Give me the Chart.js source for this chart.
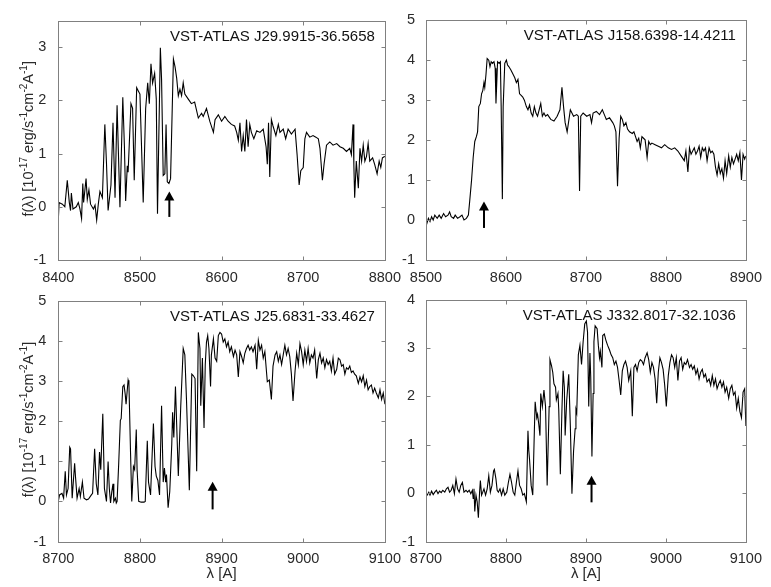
<!DOCTYPE html>
<html>
<head>
<meta charset="utf-8">
<script src="https://cdn.jsdelivr.net/npm/chart.js@4.4.1/dist/chart.umd.min.js"></script>
<style>
html, body { margin: 0; padding: 0; background: #fff; }
#wrap { position: relative; width: 771px; height: 587px; overflow: hidden; }
canvas { position: absolute; }
</style>
</head>
<body>
<div id="wrap">
  <canvas id="c1" width="410" height="290" style="left:0;top:0"></canvas>
  <canvas id="c2" width="376" height="290" style="left:395px;top:0"></canvas>
  <canvas id="c3" width="410" height="307" style="left:0;top:280px"></canvas>
  <canvas id="c4" width="376" height="307" style="left:395px;top:280px"></canvas>
</div>
<script>
// spectra: [wavelength (A), flux (1e-17 erg/s/cm2/A)]
const spec1 = [[8400,-0.25],[8401,0.08],[8405,0.05],[8408,0],[8411,0.5],[8413.5,0.08],[8415,-0.07],[8416,0.26],[8418,-0.04],[8422,0],
  [8424.5,0.08],[8426.5,-0.04],[8428.5,-0.22],[8430,0.44],[8431,0.08],[8434,0.53],[8435.5,0.14],[8437.5,0.32],[8439.5,0.05],[8443,-0.04],
  [8445,0.03],[8447,-0.25],[8449,0.05],[8451,0.29],[8454,0.17],[8457,1.55],[8459,0.83],[8461,-0.07],[8464.5,0.41],[8467,1.58],
  [8469.5,0.17],[8472,1.91],[8475.5,-0.01],[8479,2.06],[8481,1.13],[8482.5,0.11],[8484.5,0.77],[8485.5,0.65],[8489,1.94],[8491,1.85],
  [8493,0.5],[8496,2.24],[8498,2.18],[8500,2.12],[8504,0.08],[8507,1.85],[8509.5,2.33],[8511.5,1.94],[8513.5,2.69],[8515.5,2.33],
  [8518,2.51],[8520,2.03],[8521.5,-0.13],[8525,2.99],[8526.5,2.39],[8528.5,0.59],[8530.5,0.62],[8532,1.55],[8533.5,0.47],[8535.5,0.44],
  [8537.5,0.53],[8541,2.78],[8543,2.63],[8545,2.42],[8547,2.09],[8549,2.21],[8551,2.09],[8553,2.33],[8555,2.12],[8559,2.03],
  [8563,1.94],[8567,1.97],[8571.5,1.67],[8575.5,1.76],
  [8577.5,1.7],[8581.5,1.85],[8585.5,1.61],[8590,1.4],[8592,1.64],[8596,1.73],[8600,1.61],[8604,1.7],[8608,1.61],[8612,1.55],
  [8616,1.52],[8618.5,1.4],[8620.5,1.25],[8622.5,1.58],[8624.5,1.04],[8626.5,1.34],[8628.5,1.04],[8630.5,1.64],[8632.5,1.13],[8634.5,1.55],
  [8636.5,1.4],[8639.5,1.28],[8643,1.43],[8647,1.4],[8651,1.46],[8654.5,1.13],[8656,0.8],[8657.5,1.58],[8659,0.56],[8661,1.64],
  [8663,1.52],[8666.5,1.34],[8669.5,1.55],[8671.5,1.4],[8675.5,1.46],[8678.5,1.28],[8681.5,1.46],[8685.5,1.37],[8690,1.46],[8692.5,0.98],
  [8695,0.41],[8697,0.68],[8700,0.74],[8702,1.28],[8704,1.4],[8708,1.31],[8712,1.34],[8715.5,1.31],[8718.5,1.28],[8720.5,1.1],
  [8723.5,0.5],[8725.5,0.8],[8728.5,1.16],[8732.5,1.22],[8736.5,1.16],[8741,1.19],[8745,1.13],[8749,1.1],[8753,1.04],[8757,1.1],
  [8759,0.98],[8761,1.55],[8762,0.8],[8763,0.17],[8765,0.86],[8767.5,0.35],[8769.5,1.1],[8771.5,0.86],[8773.5,1.16],[8775.5,0.86],
  [8777.5,0.95],[8779.5,1.19],[8781.5,0.86],[8785,0.92],[8787.5,0.8],[8790.5,0.62],[8793,0.86],[8795,0.74],[8797,0.92],[8800,0.95]];

const spec2 = [[8500,-0.16],[8503,0.04],[8505,-0.04],[8507,0.08],[8509,0],[8511,0.12],[8514,0.04],[8516.5,0.12],[8519,0.04],[8522,0.16],
  [8524.5,0.08],[8527.5,0.12],[8529.5,0.2],[8531.5,0.08],[8534.5,0.04],[8536.5,0.12],[8539.5,0.04],[8542.5,0.08],[8545,0.12],[8547.5,0],
  [8550.5,0.04],[8553,0.12],[8554.5,0.44],[8557,1],[8559,1.56],[8561,1.96],[8563,2.08],[8564.5,2.2],[8566,2.83],[8568,2.91],
  [8569.5,3.15],[8571,3.23],[8572.5,3.43],[8573.5,3.31],[8575,3.63],[8576.5,4.03],[8578.5,3.99],[8580,3.83],[8581.5,3.95],[8583,3.91],
  [8585,3.95],[8586.5,3.79],[8587.5,2.91],[8589.5,3.95],[8591.5,3.91],[8593,3.95],[8594,2.83],[8595.5,0.52],[8596.5,2.83],[8598.5,3.91],
  [8600.5,3.99],[8602,3.87],[8603.5,3.83],[8606,3.75],[8609,3.63],[8611,3.55],[8613,3.43],[8615,3.51],[8617,3.15],[8619,3.11],
  [8621,3.07],[8623,2.99],[8625.5,2.83],[8627.5,2.75],[8629.5,2.87],[8631.5,2.67],[8633.5,2.59],[8635.5,2.83],[8637.5,2.67],[8639.5,2.59],
  [8641.5,2.75],[8643.5,2.91],[8645.5,2.59],[8647.5,2.67],[8649.5,2.59],[8652,2.63],[8656,2.51],[8660,2.47],[8664,2.59],[8667.5,2.75],
  [8670,3.31],[8672,2.83],[8674,2.43],[8676.5,2.2],[8680.5,2.75],[8684.5,2.59],[8688.5,2.63],[8690.5,2.59],[8692,0.72],[8693.5,2.59],
  [8696.5,2.67],[8701,2.59],[8705,2.63],[8707,2.43],[8709,2.67],[8713,2.71],[8717,2.63],[8720.5,2.75],[8723,2.63],[8725.5,2.51],
  [8729.5,2.55],[8733.5,2.43],[8735.5,2.35],[8737.5,2.2],[8739.5,0.84],[8741.5,2.04],[8743.5,2.59],[8745.5,2.51],[8747.5,2.35],[8750,2.43],
  [8752,2.27],[8754.5,2.2],[8758,2.16],[8760,2.2],[8762,2.08],[8764,1.96],[8766,2.04],[8768,1.8],[8770,2.08],[8772,2.04],
  [8774,2],[8776.5,1.56],[8778.5,1.96],[8780.5,1.88],[8782.5,1.92],[8786.5,1.88],[8790.5,1.84],[8794.5,1.8],[8798.5,1.88],[8803,1.8],
  [8807,1.76],[8811,1.8],[8815,1.72],[8819,1.6],[8823,1.48],[8825,1.72],[8827.5,1.2],[8829.5,1.8],[8831.5,1.64],[8833.5,1.72],
  [8835.5,1.8],[8837.5,1.64],[8839.5,1.72],[8841.5,1.84],[8843.5,1.56],[8845.5,1.8],[8847.5,1.72],[8849.5,1.8],[8851.5,1.48],[8854,1.8],
  [8856,1.68],[8858,1.72],[8860,1.64],[8862,1.32],[8864,1.12],[8866,1.4],[8868,1.16],[8870,1.28],[8872,1.04],[8874,1.48],
  [8876,1.16],[8878.5,1.6],[8880.5,1.32],[8882.5,1.56],[8884.5,1.4],[8886.5,1.52],[8888.5,1.64],[8890.5,1.48],[8892.5,1.68],[8894.5,1],
  [8896.5,1.64],[8898.5,1.52],[8900,1.6]];

const spec3 = [[8700,0],[8701.5,0.16],[8704.5,0.2],[8706.5,0.08],[8708.5,0.75],[8710,0.16],[8712,0.32],[8714,1.35],[8715,1.31],[8717,0.08],
  [8720,0.95],[8721,0.63],[8723,0.08],[8725.5,0.32],[8727,0.12],[8729.5,0.48],[8731.5,0.08],[8734.5,0.04],[8737,0.06],[8740.5,0.16],
  [8742,0.2],[8744.5,1.31],[8746.5,0.44],[8748.5,0.16],[8750.5,1.23],[8752,0.79],[8754.5,2.18],[8756.5,0.32],[8759,0],[8761,0.99],
  [8762.5,0.32],[8764,-0.04],[8765.5,0.24],[8767,0.44],[8768,0],[8770,0.08],[8771,-0.04],[8772,0],[8774,0.95],[8776,2.02],
  [8777,2.06],[8779,2.86],[8780.5,2.9],[8782,2.66],[8783,2.42],[8785.5,3.02],[8786.5,2.94],[8788.5,1.19],[8790,0],[8792,0.87],
  [8793.5,0.79],[8795.5,1.79],[8796.5,0.79],[8798.5,0],[8801.5,-0.02],[8805,-0.02],[8806.5,0],[8809,1.51],[8810.5,0.48],[8813,0.16],
  [8815,1.19],[8816.5,1.94],[8818.5,0.87],[8820,0.63],[8822,0.52],[8824,0.16],[8826.5,2.38],[8828.5,0.48],[8830,0.83],[8831.5,0.48],
  [8832.5,0.67],[8834.5,-0.16],[8836.5,0.24],[8839,1.43],[8840,2.22],[8841.5,1.59],[8843.5,2.86],[8845.5,1.59],[8847,0.63],[8850,2.38],
  [8853,3.81],[8855,3.65],[8857,2.54],[8860.5,0.28],[8863.5,3.17],[8865.5,3.13],[8867.5,3.06],[8869.5,0.75],[8871.5,4.21],[8873.5,3.81],
  [8874.5,2.38],[8876.5,3.57],[8878.5,1.83],[8880,3.41],[8881.5,3.97],[8883,4.13],[8884.5,3.81],[8886.5,2.86],[8887.5,3.65],[8890,4.05],
  [8892,3.57],[8894,3.49],[8896,4.13],[8898,4.21],[8900,4.17],[8902,3.97],[8904,4.05],[8906,3.85],[8908,3.97],[8910,3.73],
  [8912,3.85],[8914.5,3.61],[8916.5,3.77],[8918.5,3.65],[8920.5,3.1],[8922.5,3.73],[8924.5,3.61],[8926.5,3.45],[8928.5,3.69],[8930.5,3.81],
  [8932.5,3.89],[8934.5,3.77],[8936.5,3.85],[8938.5,3.73],[8941,3.89],[8943,3.29],[8945,4.01],[8947,3.77],[8949,3.89],[8951,3.57],
  [8953,3.73],[8956,2.98],[8958.5,3.02],[8961,2.54],[8963,3.37],[8965.5,3.65],[8967.5,3.73],[8969.5,3.49],[8971.5,3.65],[8973.5,3.41],
  [8975.5,3.65],[8977.5,3.89],[8979.5,3.65],[8981.5,3.81],[8983.5,3.61],[8985.5,3.17],[8987.5,2.5],[8990,3.25],[8992,3.69],[8994,3.41],
  [8996,3.93],[8998,3.73],[9000,3.41],[9002,3.77],[9004,3.49],[9006,3.81],[9008,3.45],[9010,3.65],[9012,3.57],[9014,3.77],
  [9016.5,3.06],[9018.5,3.53],[9020.5,3.69],[9022.5,3.45],[9024.5,3.57],[9026.5,3.33],[9028.5,3.53],[9030.5,3.41],[9032.5,3.49],[9034.5,3.25],
  [9036.5,3.57],[9038.5,3.17],[9041,3.29],[9043,3.57],[9045,3.53],[9047,3.37],[9049,3.41],[9051,3.17],[9053,3.33],[9055,3.29],
  [9057,3.37],[9059,3.21],[9061,3.25],[9063,3.17],[9065,3.13],[9067.5,2.94],[9069.5,3.1],[9071.5,2.98],[9073.5,3.13],[9075.5,2.86],
  [9077.5,3.02],[9079.5,2.78],[9081.5,2.86],[9083.5,2.9],[9085.5,2.7],[9087.5,2.82],[9089.5,2.7],[9092,2.58],[9094,2.78],[9096,2.54],
  [9098,2.7],[9100,2.42]];

const spec4 = [[8700,-0.01],[8701.5,-0.04],[8703.5,0.02],[8705,-0.04],[8707,0.04],[8709,-0.03],[8711,0.02],[8713,0.06],[8715,-0.01],[8717,0.04],
  [8719,0.01],[8721,0.06],[8723.5,0.02],[8725.5,0.09],[8727.5,0.12],[8729.5,0.02],[8731.5,0.06],[8733.5,0.16],[8735.5,-0.01],[8737.5,0.29],
  [8739.5,0.09],[8741.5,0.02],[8743.5,0.16],[8745.5,0.22],[8747.5,0.02],[8750,0.06],[8752,0.02],[8754,0.06],[8756,-0.01],[8758,0.06],
  [8759,-0.11],[8760,0.09],[8761,-0.38],[8762.5,-0.04],[8764,-0.18],[8765.5,-0.51],[8767,0.02],[8768,0.26],[8769.5,-0.04],[8771,0.02],
  [8772.5,0.09],[8774.5,-0.04],[8776.5,0.09],[8778.5,0.36],[8780.5,0.02],[8782.5,0.16],[8784.5,0.46],[8785.5,0.49],[8787.5,0.29],[8789,0.06],
  [8790.5,0.02],[8792.5,0.09],[8794.5,-0.04],[8796.5,0.09],[8798.5,-0.04],[8801,0.02],[8803,0.22],[8805,0.39],[8807,0.22],[8809,0.02],
  [8811,-0.04],[8813,0.22],[8815,0.46],[8817,0.16],[8819,0.09],[8821,-0.04],[8823,-0.01],[8825.5,-0.18],[8827.5,1.29],[8828.5,0.89],
  [8829.5,0.69],[8831.5,0.16],[8833.5,-0.04],[8835.5,1.29],[8836.5,1.89],[8838.5,1.56],[8839.5,1.63],[8841,1.43],[8842.5,1.19],[8843.5,2.06],
  [8845.5,1.79],[8847.5,2.13],[8849.5,1.79],[8851.5,0.16],[8854,1.79],[8855,2.76],[8857,2.63],[8858.5,2.5],[8860,2.26],[8862,2.19],
  [8863,1.93],[8865,2.06],[8866,1.73],[8868,0.39],[8870,1.73],[8871.5,2.53],[8873,2.19],[8874,1.19],[8876,1.93],[8878.5,2.46],
  [8880.5,1.39],[8882.5,-0.01],[8884.5,0.86],[8886.5,1.33],[8887.5,1.73],[8888.5,1.66],[8890.5,2.86],[8892.5,3.06],[8894.5,2.66],[8896.5,3.13],
  [8898.5,3.5],[8900.5,3.56],[8902,3.33],[8903.5,1.79],[8905,2.9],[8906,2.4],[8907.5,0.76],[8909,2.06],[8910,3.13],[8911.5,3.46],
  [8914,3.4],[8915.5,3.06],[8917,2.8],[8918,2.93],[8920,2.6],[8921,3.26],[8923,3.29],[8925,3.16],[8927,3.06],[8929.5,2.96],
  [8931.5,2.86],[8933.5,2.8],[8935.5,2.66],[8937.5,2.73],[8939.5,2.6],[8941.5,2.33],[8943.5,2.03],[8945.5,2.53],[8947.5,2.66],[8949.5,2.73],
  [8951.5,2.6],[8953.5,2.33],[8956,2.53],[8958,1.59],[8960,2.6],[8962,2.66],[8964,2.53],[8966,2.7],[8968,2.76],[8970,2.73],
  [8972,2.66],[8974,2.8],[8976.5,2.9],[8978.5,2.76],[8980.5,2.5],[8982.5,2.7],[8984.5,2.6],[8986.5,2.36],[8988.5,1.86],[8990.5,2.5],
  [8992.5,2.8],[8994.5,2.7],[8996.5,2.56],[8998.5,2.23],[9000.5,1.79],[9003,2.43],[9005,2.7],[9007,2.86],[9009,2.8],[9011,2.6],
  [9013,2.8],[9015,2.33],[9017,2.73],[9019,2.8],[9021,2.56],[9023,2.7],[9025,2.66],[9027,2.76],[9029.5,2.6],[9031.5,2.66],
  [9033.5,2.56],[9035.5,2.63],[9037.5,2.46],[9039.5,2.56],[9041.5,2.36],[9043.5,2.5],[9045.5,2.56],[9047.5,2.4],[9049.5,2.46],[9051.5,2.3],
  [9054,2.36],[9056,2.23],[9058,2.43],[9060,2.23],[9062,2.36],[9064,2.16],[9066,2.26],[9068,2.33],[9070,2.19],[9072,2.3],
  [9074,2.09],[9076,2.19],[9078.5,1.96],[9080.5,2.16],[9082.5,2.23],[9084.5,2.03],[9086.5,2.09],[9088.5,1.76],[9090.5,1.96],[9092.5,1.69],
  [9094.5,1.56],[9096.5,2.09],[9098.5,2.16],[9100,1.39]];

const names = ['VST-ATLAS J29.9915-36.5658', 'VST-ATLAS J158.6398-14.4211', 'VST-ATLAS J25.6831-33.4627', 'VST-ATLAS J332.8017-32.1036'];
// arrows: [wavelength, tail flux, tip flux]
const arrows = [[8536, -0.19, 0.29], [8572.5, -0.2, 0.46], [8889, -0.2, 0.49], [8907, -0.19, 0.36]];
const xTicks1 = [8400, 8500, 8600, 8700, 8800];
const xTicks2 = [8500, 8600, 8700, 8800, 8900];
const xTicks34 = [8700, 8800, 8900, 9000, 9100];
const yTicks1 = [-1, 0, 1, 2, 3];
const yTicks23 = [-1, 0, 1, 2, 3, 4, 5];
const yTicks4 = [-1, 0, 1, 2, 3, 4];
const yTitle = [['f(λ) [10', 0], ['-17', 1], [' erg/s', 0], ['-1', 1], ['cm', 0], ['-2', 1], ['A', 0], ['-1', 1], [']', 0]];
const xTitle = 'λ [A]';

const FONT = '"Liberation Sans", Arial, Helvetica, sans-serif';
const FRAME = '#808080', TXT = '#2a2a2a';

const crisp = v => Math.round(v) + 0.5;

function richWidth(ctx, parts) {
    let w = 0;
    parts.forEach(([t, s]) => { ctx.font = (s ? '10px ' : '14.5px ') + FONT; w += ctx.measureText(t).width; });
    return w;
}

const decor = {
    id: 'decor',
    afterDraw(chart, args, o) {
        const { ctx, chartArea: a } = chart;
        const x = chart.scales.x, y = chart.scales.y;
        const L = crisp(a.left), R = crisp(a.right), T = crisp(a.top), B = crisp(a.bottom);
        ctx.save();
        ctx.strokeStyle = FRAME; ctx.lineWidth = 1;
        ctx.strokeRect(L, T, R - L, B - T);
        ctx.beginPath();
        x.ticks.forEach(t => {
            const p = crisp(x.getPixelForValue(t.value));
            ctx.moveTo(p, B); ctx.lineTo(p, B - 4);
            ctx.moveTo(p, T); ctx.lineTo(p, T + 4);
        });
        y.ticks.forEach(t => {
            const p = crisp(y.getPixelForValue(t.value));
            ctx.moveTo(L, p); ctx.lineTo(L + 4, p);
            ctx.moveTo(R, p); ctx.lineTo(R - 4, p);
        });
        ctx.stroke();

        ctx.fillStyle = '#111';
        ctx.font = '15px ' + FONT;
        ctx.textAlign = 'right'; ctx.textBaseline = 'middle';
        ctx.fillText(o.name, a.right - 10, a.top + 16.5);

        // arrow
        const ax = x.getPixelForValue(o.arrow[0]);
        const yb = y.getPixelForValue(o.arrow[1]), yt = y.getPixelForValue(o.arrow[2]);
        ctx.strokeStyle = '#000'; ctx.lineWidth = 2;
        ctx.beginPath(); ctx.moveTo(ax, yb); ctx.lineTo(ax, yt + 7); ctx.stroke();
        ctx.fillStyle = '#000';
        ctx.beginPath(); ctx.moveTo(ax, yt); ctx.lineTo(ax - 5, yt + 9); ctx.lineTo(ax + 5, yt + 9); ctx.closePath(); ctx.fill();

        ctx.fillStyle = TXT;
        if (o.yTitle) {
            const w = richWidth(ctx, yTitle);
            ctx.translate(a.left - 31, (a.top + a.bottom) / 2 - 1.5);
            ctx.rotate(-Math.PI / 2);
            ctx.textAlign = 'left'; ctx.textBaseline = 'alphabetic';
            let cx = -w / 2;
            yTitle.forEach(([t, s]) => {
                ctx.font = (s ? '10px ' : '14.5px ') + FONT;
                ctx.fillText(t, cx, s ? -0.5 : 5.5);
                cx += ctx.measureText(t).width;
            });
            ctx.setTransform(1, 0, 0, 1, 0, 0);
        }
        if (o.xTitle) {
            ctx.font = '15px ' + FONT;
            ctx.textAlign = 'center'; ctx.textBaseline = 'middle';
            ctx.fillText(xTitle, (a.left + a.right) / 2, a.bottom + 32);
        }
        ctx.restore();
    }
};

function panel(id, spec, xr, xt, yr, yt, box, deco) {
    const tickFont = { family: FONT, size: 14.5 };
    return new Chart(document.getElementById(id), {
        type: 'line',
        data: { datasets: [{ data: spec.map(([w, f]) => ({ x: w, y: f })), borderColor: '#000', borderWidth: 1.1, pointRadius: 0, tension: 0 }] },
        options: {
            responsive: false, animation: false, events: [],
            layout: { padding: { top: box.top, right: box.right, left: 0, bottom: 0 } },
            plugins: { legend: { display: false }, tooltip: { enabled: false }, decor: deco },
            scales: {
                x: {
                    type: 'linear', min: xr[0], max: xr[1],
                    afterBuildTicks: s => { s.ticks = xt.map(v => ({ value: v })); },
                    afterFit: s => { s.height = box.xh; },
                    grid: { display: false, drawTicks: false }, border: { display: false },
                    ticks: { padding: 9, color: TXT, font: tickFont, maxRotation: 0, autoSkip: false, callback: v => String(v) },
                },
                y: {
                    type: 'linear', min: yr[0], max: yr[1],
                    afterBuildTicks: s => { s.ticks = yt.map(v => ({ value: v })); },
                    afterFit: s => { s.width = box.yw; },
                    grid: { display: false, drawTicks: false }, border: { display: false },
                    ticks: { padding: box.yp, color: TXT, font: tickFont, autoSkip: false, callback: v => String(v) },
                },
            },
        },
        plugins: [decor],
    });
}

panel('c1', spec1, [8400, 8800], xTicks1, [-1, 3.5], yTicks1,
    { top: 8.5, right: 25, xh: 30, yw: 58.3, yp: 12 }, { name: names[0], arrow: arrows[0], yTitle: true });
panel('c2', spec2, [8500, 8900], xTicks2, [-1, 5], yTicks23,
    { top: 8.5, right: 17.7, xh: 30, yw: 31, yp: 11 }, { name: names[1], arrow: arrows[1] });
panel('c3', spec3, [8700, 9100], xTicks34, [-1, 5], yTicks23,
    { top: 10, right: 25, xh: 45.5, yw: 58.3, yp: 12 }, { name: names[2], arrow: arrows[2], yTitle: true, xTitle: true });
panel('c4', spec4, [8700, 9100], xTicks34, [-1, 4], yTicks4,
    { top: 10, right: 17.7, xh: 45.5, yw: 31, yp: 11 }, { name: names[3], arrow: arrows[3], xTitle: true });
</script>
</body>
</html>
